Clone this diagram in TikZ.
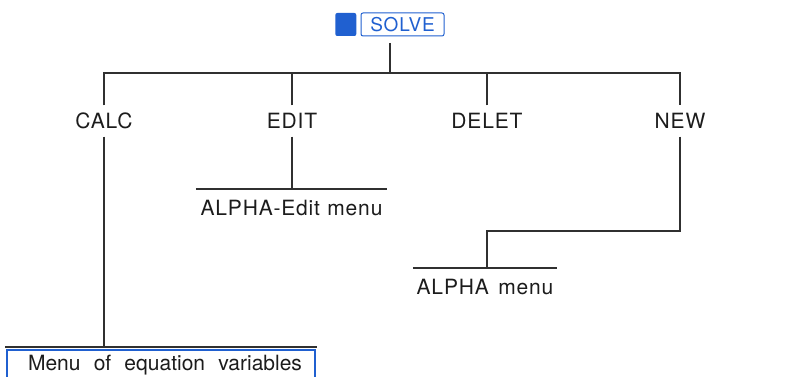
\documentclass[tikz,border=0pt]{standalone}
\usepackage{fontspec}
\setmainfont{TeX Gyre Heros}
\newfontfamily\keyfont[LetterSpace=4]{TeX Gyre Heros}
\usetikzlibrary{positioning,calc}
\definecolor{slvBlueLine}{HTML}{2060D0}
\definecolor{slvGreyLine}{HTML}{303030}
\definecolor{slvTextDark}{HTML}{1C1C1C}

\tikzset{
  menukey/.style={font=\keyfont\fontsize{21}{25}\selectfont, text=slvTextDark,
    text height=15pt, text depth=0pt, inner xsep=0pt, inner ysep=8pt},
  menuname/.style={font=\keyfont\fontsize{21}{25}\selectfont, text=slvTextDark,
    anchor=north, inner xsep=0pt, inner ysep=0pt, text height=26pt, text depth=4pt},
  treeline/.style={slvGreyLine, line width=1.2pt},
}

\begin{document}
\begin{tikzpicture}[x=1pt, y=-1pt]
\useasboundingbox (0,0) rectangle (807,377);

% --- TOP KEY ---
\node[draw=slvBlueLine, line width=1pt, rounded corners=2pt,
  minimum width=83pt, minimum height=23pt, inner sep=0pt,
  text=slvBlueLine, font=\keyfont\fontsize{19}{22}\selectfont]
  (solve) at (402.5, 24.5) {SOLVE};
\node[fill=slvBlueLine, rounded corners=2pt, minimum width=21pt,
  minimum height=23pt, inner sep=0pt, left=4pt of solve] (shiftkey) {};
\coordinate (solvestem) at (390, 43);
\coordinate (bar) at (390, 73);

% --- MENU KEYS ---
\node[menukey] (calc)  at (104, 121) {CALC};
\node[menukey] (edit)  at (292, 121) {EDIT};
\node[menukey] (delet) at (487, 121) {DELET};
\node[menukey] (new)   at (680, 121) {NEW};

% --- MENUS REACHED ---
\node[menuname, minimum width=191pt] (editmenu)  at (291.5, 189) {ALPHA-Edit\hspace{0.35em}menu};
\node[menuname, minimum width=144pt] (alphamenu) at (485, 268) {ALPHA\hspace{0.45em}menu};
\node[font=\fontsize{21}{25}\selectfont, text=slvTextDark, inner sep=0pt]
  (vars) at (165, 365) {Menu\hspace{0.35em} of\hspace{0.35em} equation\hspace{0.35em} variables};
\coordinate (newjoin) at (487, 231);

% --- TREE ---
\draw[treeline] (solvestem) -- (bar);
\draw[treeline] (calc.north) -- (calc.north |- bar) -- (new.north |- bar) -- (new.north);
\draw[treeline] (edit.north) -- (edit.north |- bar);
\draw[treeline] (delet.north) -- (delet.north |- bar);

% EDIT branch
\draw[treeline] (edit.south) -- (edit.south |- editmenu.north);
\draw[treeline] (editmenu.north west) -- (editmenu.north east);

% NEW branch
\draw[treeline] (new.south) -- (new.south |- newjoin) -- (newjoin) -- (newjoin |- alphamenu.north);
\draw[treeline] (alphamenu.north west) -- (alphamenu.north east);

% CALC branch, box runs off the bottom edge
\coordinate (varsrule) at (104, 347);
\draw[treeline] (calc.south) -- (varsrule);
\draw[treeline] (5, 347) -- (317, 347);
\draw[slvBlueLine, line width=1.2pt] (7, 385) |- (315, 350) -- (315, 385);

\end{tikzpicture}
\end{document}
